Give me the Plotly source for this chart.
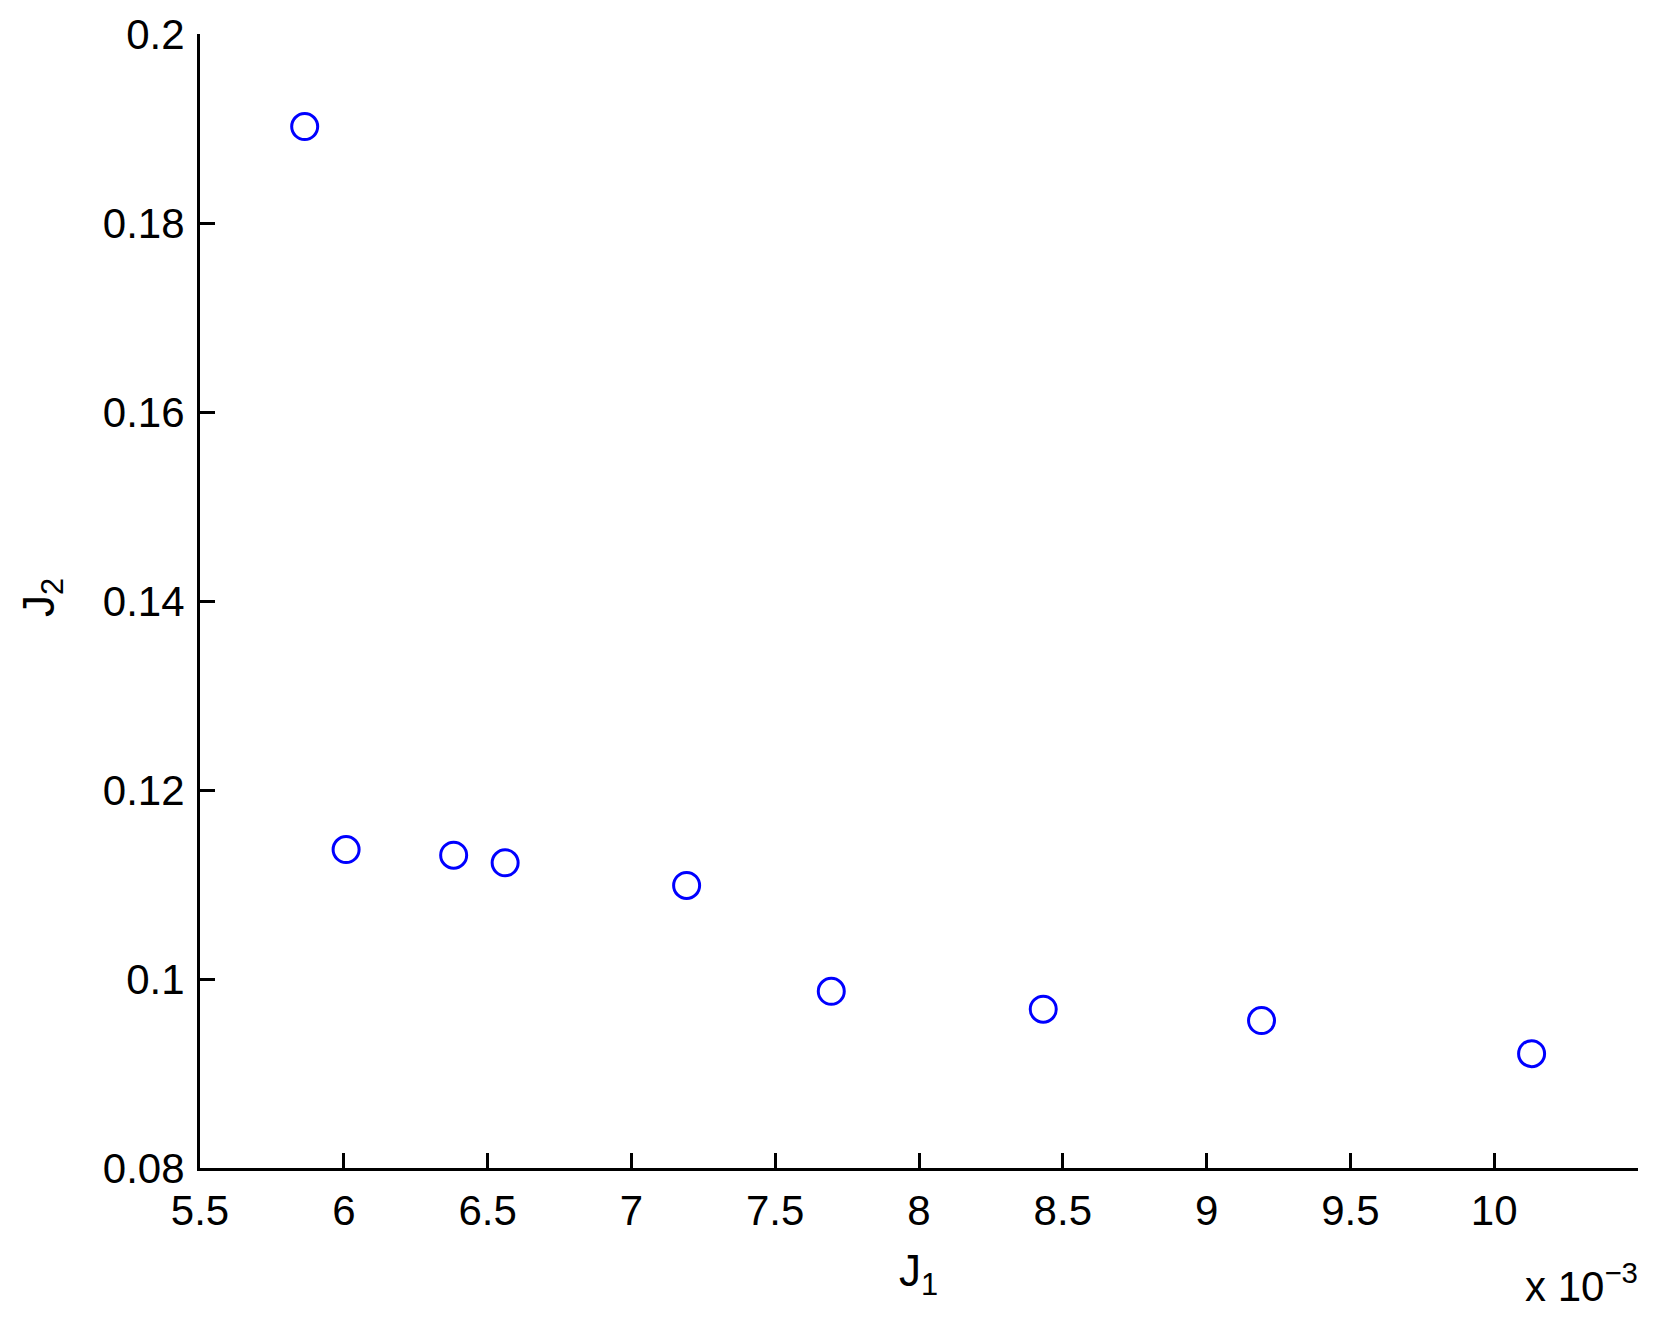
import plotly.graph_objects as go

# J1 values in units of 1e-3 (axis shows "x 10^-3")
j1_e3 = [5.864, 6.008, 6.382, 6.561, 7.192, 7.695, 8.432, 9.191, 10.130]
j2 = [0.1902, 0.1137, 0.1131, 0.1123, 0.1099, 0.0987, 0.0968, 0.0956, 0.0921]

x_ticks = [5.5, 6, 6.5, 7, 7.5, 8, 8.5, 9, 9.5, 10]
x_ticktext = ["5.5", "6", "6.5", "7", "7.5", "8", "8.5", "9", "9.5", "10"]
y_ticks = [0.08, 0.1, 0.12, 0.14, 0.16, 0.18, 0.2]
y_ticktext = ["0.08", "0.1", "0.12", "0.14", "0.16", "0.18", "0.2"]

FONT = "Liberation Sans, Arial, Helvetica, sans-serif"
OFF = 8  # browser body margin
W, H = 1654 - 2 * OFF, 1321 - 2 * OFF
# target page pixels: plot area x 200..1638, y 34..1168
L, T = 200 - OFF, 34 - OFF
R = W - (1638 - OFF)
B = H - (1168 - OFF)
pw, ph = W - L - R, H - T - B

def px_x(p):  # page pixel -> paper x
    return (p - OFF - L) / pw

def px_y(p):  # page pixel -> paper y
    return (H - B - (p - OFF)) / ph

fig = go.Figure()
fig.add_trace(go.Scatter(
    x=j1_e3, y=j2, mode="markers",
    marker=dict(symbol="circle-open", size=26, color="#0000ff",
                line=dict(width=3, color="#0000ff")),
    showlegend=False, hoverinfo="x+y",
))

axis_common = dict(
    showline=True, linecolor="black", linewidth=3,
    ticks="inside", ticklen=15, tickwidth=3, tickcolor="black",
    showgrid=False, zeroline=False, mirror=False, automargin=False,
    tickfont=dict(family=FONT, size=42, color="black"),
)

fig.update_layout(
    width=W, height=H,
    margin=dict(l=L, r=R, t=T, b=B, pad=0, autoexpand=False),
    paper_bgcolor="white", plot_bgcolor="white",
    xaxis=dict(range=[5.5, 10.5], tickvals=x_ticks, ticktext=x_ticktext,
               ticklabelstandoff=4, **axis_common),
    yaxis=dict(range=[0.08, 0.2], tickvals=y_ticks, ticktext=y_ticktext,
               ticklabelstandoff=4, **axis_common),
    annotations=[
        dict(text="J<sub>1</sub>", xref="paper", yref="paper",
             x=px_x(918), y=px_y(1244), xanchor="center", yanchor="top",
             showarrow=False, font=dict(family=FONT, size=44, color="black")),
        dict(text="J<sub>2</sub>", xref="paper", yref="paper", textangle=-90,
             x=px_x(42), y=px_y(598), xanchor="center", yanchor="middle",
             showarrow=False, font=dict(family=FONT, size=44, color="black")),
        dict(text="x 10<sup>\u22123</sup>", xref="paper", yref="paper",
             x=px_x(1640), y=px_y(1312), xanchor="right", yanchor="bottom",
             showarrow=False, font=dict(family=FONT, size=42, color="black")),
    ],
)

fig.write_html("out.html")
